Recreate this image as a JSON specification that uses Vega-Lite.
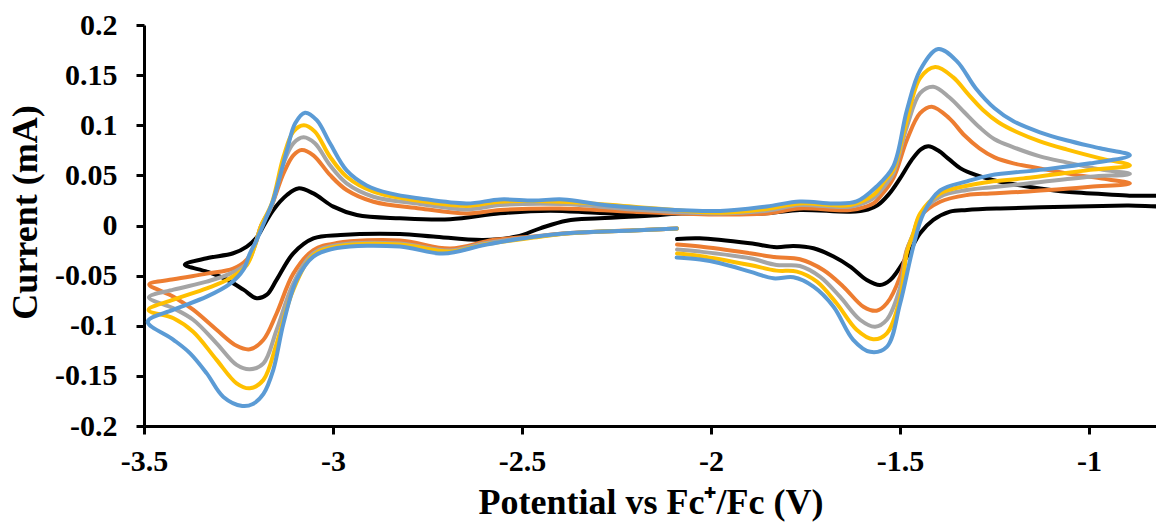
{
  "$schema": "https://vega.github.io/schema/vega-lite/v6.json",
  "autosize": "none",
  "width": 1012,
  "height": 401,
  "padding": {"left": 144, "top": 25, "right": 0, "bottom": 97},
  "background": "white",
  "config": {
    "view": {"stroke": null},
    "axis": {
      "grid": false,
      "domainColor": "black",
      "domainWidth": 3,
      "tickColor": "black",
      "tickWidth": 3,
      "tickSize": 8,
      "labelFont": "Liberation Serif",
      "labelFontWeight": "bold",
      "labelFontSize": 30,
      "labelColor": "black",
      "labelFlush": false,
      "labelOverlap": false,
      "titleFont": "Liberation Serif",
      "titleFontWeight": "bold",
      "titleFontSize": 36,
      "titleColor": "black"
    }
  },
  "data": {"values": [
    {"s":1,"i":1,"x":-2.09,"y":0.012},{"s":1,"i":2,"x":-2.135,"y":0.0105},{"s":1,"i":3,"x":-2.294,"y":0.0072},{"s":1,"i":4,"x":-2.382,"y":0.0048},{"s":1,"i":5,"x":-2.452,"y":-0.0028},{"s":1,"i":6,"x":-2.514,"y":-0.011},{"s":1,"i":7,"x":-2.602,"y":-0.0145},{"s":1,"i":8,"x":-2.735,"y":-0.011},{"s":1,"i":9,"x":-2.823,"y":-0.0085},{"s":1,"i":10,"x":-2.98,"y":-0.0095},{"s":1,"i":11,"x":-3.052,"y":-0.0128},{"s":1,"i":12,"x":-3.105,"y":-0.0277},{"s":1,"i":13,"x":-3.149,"y":-0.054},{"s":1,"i":14,"x":-3.175,"y":-0.069},{"s":1,"i":15,"x":-3.202,"y":-0.0726},{"s":1,"i":16,"x":-3.237,"y":-0.064},{"s":1,"i":17,"x":-3.281,"y":-0.054},{"s":1,"i":18,"x":-3.334,"y":-0.046},{"s":1,"i":19,"x":-3.392,"y":-0.039},{"s":1,"i":20,"x":-3.334,"y":-0.0327},{"s":1,"i":21,"x":-3.264,"y":-0.0277},{"s":1,"i":22,"x":-3.228,"y":-0.021},{"s":1,"i":23,"x":-3.202,"y":-0.012},{"s":1,"i":24,"x":-3.18,"y":0.002},{"s":1,"i":25,"x":-3.158,"y":0.0155},{"s":1,"i":26,"x":-3.122,"y":0.0304},{"s":1,"i":27,"x":-3.092,"y":0.037},{"s":1,"i":28,"x":-3.052,"y":0.032},{"s":1,"i":29,"x":-2.999,"y":0.0188},{"s":1,"i":30,"x":-2.937,"y":0.0105},{"s":1,"i":31,"x":-2.823,"y":0.0072},{"s":1,"i":32,"x":-2.69,"y":0.0062},{"s":1,"i":33,"x":-2.558,"y":0.0122},{"s":1,"i":34,"x":-2.426,"y":0.0148},{"s":1,"i":35,"x":-2.294,"y":0.0125},{"s":1,"i":36,"x":-2.135,"y":0.0115},{"s":1,"i":37,"x":-2.03,"y":0.0122},{"s":1,"i":38,"x":-1.853,"y":0.0122},{"s":1,"i":39,"x":-1.765,"y":0.0155},{"s":1,"i":40,"x":-1.632,"y":0.0138},{"s":1,"i":41,"x":-1.585,"y":0.016},{"s":1,"i":42,"x":-1.56,"y":0.02},{"s":1,"i":43,"x":-1.53,"y":0.031},{"s":1,"i":44,"x":-1.5,"y":0.047},{"s":1,"i":45,"x":-1.47,"y":0.065},{"s":1,"i":46,"x":-1.445,"y":0.076},{"s":1,"i":47,"x":-1.425,"y":0.079},{"s":1,"i":48,"x":-1.4,"y":0.075},{"s":1,"i":49,"x":-1.37,"y":0.066},{"s":1,"i":50,"x":-1.34,"y":0.057},{"s":1,"i":51,"x":-1.3,"y":0.0505},{"s":1,"i":52,"x":-1.235,"y":0.0437},{"s":1,"i":53,"x":-1.13,"y":0.037},{"s":1,"i":54,"x":-1.06,"y":0.0337},{"s":1,"i":55,"x":-0.9,"y":0.03},{"s":1,"i":56,"x":-0.78,"y":0.027},{"s":1,"i":57,"x":-0.78,"y":0.021},{"s":1,"i":58,"x":-0.9,"y":0.02},{"s":1,"i":59,"x":-1.06,"y":0.0188},{"s":1,"i":60,"x":-1.235,"y":0.017},{"s":1,"i":61,"x":-1.323,"y":0.0155},{"s":1,"i":62,"x":-1.368,"y":0.0138},{"s":1,"i":63,"x":-1.412,"y":0.0055},{"s":1,"i":64,"x":-1.447,"y":-0.0078},{"s":1,"i":65,"x":-1.482,"y":-0.031},{"s":1,"i":66,"x":-1.526,"y":-0.0544},{"s":1,"i":67,"x":-1.553,"y":-0.0594},{"s":1,"i":68,"x":-1.588,"y":-0.0544},{"s":1,"i":69,"x":-1.632,"y":-0.041},{"s":1,"i":70,"x":-1.676,"y":-0.031},{"s":1,"i":71,"x":-1.729,"y":-0.0227},{"s":1,"i":72,"x":-1.782,"y":-0.0204},{"s":1,"i":73,"x":-1.827,"y":-0.0217},{"s":1,"i":74,"x":-1.897,"y":-0.0178},{"s":1,"i":75,"x":-2.03,"y":-0.0128},{"s":1,"i":76,"x":-2.09,"y":-0.0135},

    {"s":2,"i":1,"x":-2.09,"y":-0.003},{"s":2,"i":2,"x":-2.206,"y":-0.0048},{"s":2,"i":3,"x":-2.382,"y":-0.0078},{"s":2,"i":4,"x":-2.47,"y":-0.011},{"s":2,"i":5,"x":-2.577,"y":-0.0145},{"s":2,"i":6,"x":-2.69,"y":-0.023},{"s":2,"i":7,"x":-2.823,"y":-0.015},{"s":2,"i":8,"x":-2.99,"y":-0.0175},{"s":2,"i":9,"x":-3.052,"y":-0.0245},{"s":2,"i":10,"x":-3.105,"y":-0.048},{"s":2,"i":11,"x":-3.149,"y":-0.0875},{"s":2,"i":12,"x":-3.184,"y":-0.114},{"s":2,"i":13,"x":-3.22,"y":-0.1235},{"s":2,"i":14,"x":-3.255,"y":-0.12},{"s":2,"i":15,"x":-3.308,"y":-0.104},{"s":2,"i":16,"x":-3.37,"y":-0.084},{"s":2,"i":17,"x":-3.422,"y":-0.071},{"s":2,"i":18,"x":-3.486,"y":-0.0587},{"s":2,"i":19,"x":-3.422,"y":-0.0537},{"s":2,"i":20,"x":-3.334,"y":-0.048},{"s":2,"i":21,"x":-3.264,"y":-0.043},{"s":2,"i":22,"x":-3.228,"y":-0.034},{"s":2,"i":23,"x":-3.206,"y":-0.018},{"s":2,"i":24,"x":-3.19,"y":0.0},{"s":2,"i":25,"x":-3.167,"y":0.0155},{"s":2,"i":26,"x":-3.131,"y":0.052},{"s":2,"i":27,"x":-3.105,"y":0.07},{"s":2,"i":28,"x":-3.083,"y":0.0753},{"s":2,"i":29,"x":-3.052,"y":0.07},{"s":2,"i":30,"x":-3.008,"y":0.0504},{"s":2,"i":31,"x":-2.964,"y":0.0354},{"s":2,"i":32,"x":-2.893,"y":0.0237},{"s":2,"i":33,"x":-2.77,"y":0.017},{"s":2,"i":34,"x":-2.646,"y":0.012},{"s":2,"i":35,"x":-2.558,"y":0.0155},{"s":2,"i":36,"x":-2.4,"y":0.017},{"s":2,"i":37,"x":-2.205,"y":0.0138},{"s":2,"i":38,"x":-1.976,"y":0.011},{"s":2,"i":39,"x":-1.853,"y":0.012},{"s":2,"i":40,"x":-1.765,"y":0.017},{"s":2,"i":41,"x":-1.632,"y":0.0155},{"s":2,"i":42,"x":-1.571,"y":0.022},{"s":2,"i":43,"x":-1.55,"y":0.03},{"s":2,"i":44,"x":-1.518,"y":0.047},{"s":2,"i":45,"x":-1.482,"y":0.0853},{"s":2,"i":46,"x":-1.447,"y":0.112},{"s":2,"i":47,"x":-1.416,"y":0.1185},{"s":2,"i":48,"x":-1.37,"y":0.107},{"s":2,"i":49,"x":-1.33,"y":0.09},{"s":2,"i":50,"x":-1.29,"y":0.077},{"s":2,"i":51,"x":-1.25,"y":0.068},{"s":2,"i":52,"x":-1.2,"y":0.062},{"s":2,"i":53,"x":-1.13,"y":0.057},{"s":2,"i":54,"x":-1.06,"y":0.052},{"s":2,"i":55,"x":-0.97,"y":0.047},{"s":2,"i":56,"x":-0.892,"y":0.042},{"s":2,"i":57,"x":-0.997,"y":0.0387},{"s":2,"i":58,"x":-1.174,"y":0.0337},{"s":2,"i":59,"x":-1.262,"y":0.032},{"s":2,"i":60,"x":-1.323,"y":0.0304},{"s":2,"i":61,"x":-1.394,"y":0.0237},{"s":2,"i":62,"x":-1.447,"y":0.0088},{"s":2,"i":63,"x":-1.465,"y":-0.009},{"s":2,"i":64,"x":-1.482,"y":-0.024},{"s":2,"i":65,"x":-1.5,"y":-0.051},{"s":2,"i":66,"x":-1.535,"y":-0.0776},{"s":2,"i":67,"x":-1.562,"y":-0.085},{"s":2,"i":68,"x":-1.597,"y":-0.081},{"s":2,"i":69,"x":-1.65,"y":-0.061},{"s":2,"i":70,"x":-1.703,"y":-0.0444},{"s":2,"i":71,"x":-1.765,"y":-0.0337},{"s":2,"i":72,"x":-1.827,"y":-0.0317},{"s":2,"i":73,"x":-1.897,"y":-0.0277},{"s":2,"i":74,"x":-2.029,"y":-0.021},{"s":2,"i":75,"x":-2.09,"y":-0.019},

    {"s":3,"i":1,"x":-2.09,"y":-0.003},{"s":3,"i":2,"x":-2.206,"y":-0.005},{"s":3,"i":3,"x":-2.382,"y":-0.008},{"s":3,"i":4,"x":-2.47,"y":-0.0115},{"s":3,"i":5,"x":-2.6,"y":-0.018},{"s":3,"i":6,"x":-2.69,"y":-0.025},{"s":3,"i":7,"x":-2.823,"y":-0.018},{"s":3,"i":8,"x":-2.99,"y":-0.0195},{"s":3,"i":9,"x":-3.052,"y":-0.0277},{"s":3,"i":10,"x":-3.105,"y":-0.0577},{"s":3,"i":11,"x":-3.149,"y":-0.104},{"s":3,"i":12,"x":-3.184,"y":-0.1375},{"s":3,"i":13,"x":-3.22,"y":-0.1434},{"s":3,"i":14,"x":-3.255,"y":-0.139},{"s":3,"i":15,"x":-3.308,"y":-0.1175},{"s":3,"i":16,"x":-3.37,"y":-0.094},{"s":3,"i":17,"x":-3.422,"y":-0.0826},{"s":3,"i":18,"x":-3.487,"y":-0.0716},{"s":3,"i":19,"x":-3.422,"y":-0.064},{"s":3,"i":20,"x":-3.334,"y":-0.056},{"s":3,"i":21,"x":-3.272,"y":-0.048},{"s":3,"i":22,"x":-3.228,"y":-0.0377},{"s":3,"i":23,"x":-3.206,"y":-0.0195},{"s":3,"i":24,"x":-3.19,"y":0.0},{"s":3,"i":25,"x":-3.162,"y":0.02},{"s":3,"i":26,"x":-3.131,"y":0.062},{"s":3,"i":27,"x":-3.105,"y":0.082},{"s":3,"i":28,"x":-3.078,"y":0.088},{"s":3,"i":29,"x":-3.048,"y":0.082},{"s":3,"i":30,"x":-3.008,"y":0.06},{"s":3,"i":31,"x":-2.964,"y":0.042},{"s":3,"i":32,"x":-2.893,"y":0.0287},{"s":3,"i":33,"x":-2.77,"y":0.0215},{"s":3,"i":34,"x":-2.646,"y":0.016},{"s":3,"i":35,"x":-2.558,"y":0.0204},{"s":3,"i":36,"x":-2.39,"y":0.0214},{"s":3,"i":37,"x":-2.205,"y":0.016},{"s":3,"i":38,"x":-1.976,"y":0.012},{"s":3,"i":39,"x":-1.853,"y":0.0148},{"s":3,"i":40,"x":-1.765,"y":0.0204},{"s":3,"i":41,"x":-1.632,"y":0.0188},{"s":3,"i":42,"x":-1.571,"y":0.027},{"s":3,"i":43,"x":-1.54,"y":0.04},{"s":3,"i":44,"x":-1.518,"y":0.052},{"s":3,"i":45,"x":-1.482,"y":0.0985},{"s":3,"i":46,"x":-1.447,"y":0.132},{"s":3,"i":47,"x":-1.412,"y":0.1385},{"s":3,"i":48,"x":-1.37,"y":0.128},{"s":3,"i":49,"x":-1.33,"y":0.113},{"s":3,"i":50,"x":-1.29,"y":0.098},{"s":3,"i":51,"x":-1.25,"y":0.086},{"s":3,"i":52,"x":-1.2,"y":0.078},{"s":3,"i":53,"x":-1.13,"y":0.069},{"s":3,"i":54,"x":-1.06,"y":0.063},{"s":3,"i":55,"x":-0.97,"y":0.056},{"s":3,"i":56,"x":-0.892,"y":0.0514},{"s":3,"i":57,"x":-0.997,"y":0.0487},{"s":3,"i":58,"x":-1.174,"y":0.0414},{"s":3,"i":59,"x":-1.262,"y":0.038},{"s":3,"i":60,"x":-1.323,"y":0.0354},{"s":3,"i":61,"x":-1.394,"y":0.0287},{"s":3,"i":62,"x":-1.447,"y":0.0105},{"s":3,"i":63,"x":-1.465,"y":-0.008},{"s":3,"i":64,"x":-1.482,"y":-0.025},{"s":3,"i":65,"x":-1.5,"y":-0.062},{"s":3,"i":66,"x":-1.535,"y":-0.094},{"s":3,"i":67,"x":-1.566,"y":-0.101},{"s":3,"i":68,"x":-1.606,"y":-0.094},{"s":3,"i":69,"x":-1.659,"y":-0.071},{"s":3,"i":70,"x":-1.712,"y":-0.051},{"s":3,"i":71,"x":-1.765,"y":-0.0404},{"s":3,"i":72,"x":-1.827,"y":-0.0394},{"s":3,"i":73,"x":-1.897,"y":-0.0327},{"s":3,"i":74,"x":-2.03,"y":-0.026},{"s":3,"i":75,"x":-2.09,"y":-0.024},

    {"s":4,"i":1,"x":-2.09,"y":-0.003},{"s":4,"i":2,"x":-2.206,"y":-0.005},{"s":4,"i":3,"x":-2.382,"y":-0.008},{"s":4,"i":4,"x":-2.47,"y":-0.012},{"s":4,"i":5,"x":-2.6,"y":-0.019},{"s":4,"i":6,"x":-2.69,"y":-0.026},{"s":4,"i":7,"x":-2.823,"y":-0.019},{"s":4,"i":8,"x":-2.99,"y":-0.021},{"s":4,"i":9,"x":-3.052,"y":-0.0294},{"s":4,"i":10,"x":-3.105,"y":-0.064},{"s":4,"i":11,"x":-3.149,"y":-0.1175},{"s":4,"i":12,"x":-3.184,"y":-0.154},{"s":4,"i":13,"x":-3.22,"y":-0.1624},{"s":4,"i":14,"x":-3.255,"y":-0.1574},{"s":4,"i":15,"x":-3.308,"y":-0.134},{"s":4,"i":16,"x":-3.37,"y":-0.106},{"s":4,"i":17,"x":-3.422,"y":-0.0926},{"s":4,"i":18,"x":-3.488,"y":-0.0843},{"s":4,"i":19,"x":-3.422,"y":-0.074},{"s":4,"i":20,"x":-3.334,"y":-0.0627},{"s":4,"i":21,"x":-3.272,"y":-0.0527},{"s":4,"i":22,"x":-3.228,"y":-0.0394},{"s":4,"i":23,"x":-3.206,"y":-0.0195},{"s":4,"i":24,"x":-3.19,"y":0.0},{"s":4,"i":25,"x":-3.162,"y":0.022},{"s":4,"i":26,"x":-3.131,"y":0.0686},{"s":4,"i":27,"x":-3.105,"y":0.0936},{"s":4,"i":28,"x":-3.077,"y":0.1},{"s":4,"i":29,"x":-3.048,"y":0.0936},{"s":4,"i":30,"x":-3.008,"y":0.0686},{"s":4,"i":31,"x":-2.964,"y":0.0487},{"s":4,"i":32,"x":-2.893,"y":0.0337},{"s":4,"i":33,"x":-2.77,"y":0.0244},{"s":4,"i":34,"x":-2.646,"y":0.0195},{"s":4,"i":35,"x":-2.558,"y":0.0237},{"s":4,"i":36,"x":-2.39,"y":0.0237},{"s":4,"i":37,"x":-2.205,"y":0.0188},{"s":4,"i":38,"x":-1.976,"y":0.0128},{"s":4,"i":39,"x":-1.853,"y":0.0165},{"s":4,"i":40,"x":-1.765,"y":0.022},{"s":4,"i":41,"x":-1.632,"y":0.0204},{"s":4,"i":42,"x":-1.571,"y":0.0304},{"s":4,"i":43,"x":-1.54,"y":0.045},{"s":4,"i":44,"x":-1.518,"y":0.0555},{"s":4,"i":45,"x":-1.482,"y":0.105},{"s":4,"i":46,"x":-1.447,"y":0.147},{"s":4,"i":47,"x":-1.407,"y":0.158},{"s":4,"i":48,"x":-1.36,"y":0.148},{"s":4,"i":49,"x":-1.32,"y":0.131},{"s":4,"i":50,"x":-1.28,"y":0.115},{"s":4,"i":51,"x":-1.24,"y":0.103},{"s":4,"i":52,"x":-1.19,"y":0.093},{"s":4,"i":53,"x":-1.13,"y":0.084},{"s":4,"i":54,"x":-1.06,"y":0.076},{"s":4,"i":55,"x":-0.97,"y":0.067},{"s":4,"i":56,"x":-0.892,"y":0.06},{"s":4,"i":57,"x":-0.997,"y":0.0555},{"s":4,"i":58,"x":-1.174,"y":0.047},{"s":4,"i":59,"x":-1.262,"y":0.0437},{"s":4,"i":60,"x":-1.323,"y":0.0397},{"s":4,"i":61,"x":-1.394,"y":0.032},{"s":4,"i":62,"x":-1.447,"y":0.012},{"s":4,"i":63,"x":-1.465,"y":-0.008},{"s":4,"i":64,"x":-1.482,"y":-0.027},{"s":4,"i":65,"x":-1.5,"y":-0.0726},{"s":4,"i":66,"x":-1.535,"y":-0.1075},{"s":4,"i":67,"x":-1.571,"y":-0.1135},{"s":4,"i":68,"x":-1.615,"y":-0.104},{"s":4,"i":69,"x":-1.668,"y":-0.0776},{"s":4,"i":70,"x":-1.72,"y":-0.056},{"s":4,"i":71,"x":-1.773,"y":-0.046},{"s":4,"i":72,"x":-1.827,"y":-0.045},{"s":4,"i":73,"x":-1.897,"y":-0.0394},{"s":4,"i":74,"x":-2.03,"y":-0.0304},{"s":4,"i":75,"x":-2.09,"y":-0.028},

    {"s":5,"i":1,"x":-2.091,"y":-0.003},{"s":5,"i":2,"x":-2.206,"y":-0.005},{"s":5,"i":3,"x":-2.382,"y":-0.0078},{"s":5,"i":4,"x":-2.514,"y":-0.0138},{"s":5,"i":5,"x":-2.6,"y":-0.0195},{"s":5,"i":6,"x":-2.71,"y":-0.028},{"s":5,"i":7,"x":-2.823,"y":-0.021},{"s":5,"i":8,"x":-2.99,"y":-0.0225},{"s":5,"i":9,"x":-3.052,"y":-0.031},{"s":5,"i":10,"x":-3.096,"y":-0.054},{"s":5,"i":11,"x":-3.131,"y":-0.0975},{"s":5,"i":12,"x":-3.158,"y":-0.144},{"s":5,"i":13,"x":-3.184,"y":-0.168},{"s":5,"i":14,"x":-3.212,"y":-0.178},{"s":5,"i":15,"x":-3.24,"y":-0.18},{"s":5,"i":16,"x":-3.29,"y":-0.171},{"s":5,"i":17,"x":-3.334,"y":-0.1475},{"s":5,"i":18,"x":-3.378,"y":-0.1275},{"s":5,"i":19,"x":-3.422,"y":-0.114},{"s":5,"i":20,"x":-3.49,"y":-0.096},{"s":5,"i":21,"x":-3.422,"y":-0.084},{"s":5,"i":22,"x":-3.334,"y":-0.071},{"s":5,"i":23,"x":-3.272,"y":-0.058},{"s":5,"i":24,"x":-3.237,"y":-0.044},{"s":5,"i":25,"x":-3.22,"y":-0.028},{"s":5,"i":26,"x":-3.202,"y":-0.0145},{"s":5,"i":27,"x":-3.18,"y":0.005},{"s":5,"i":28,"x":-3.158,"y":0.0255},{"s":5,"i":29,"x":-3.122,"y":0.075},{"s":5,"i":30,"x":-3.1,"y":0.102},{"s":5,"i":31,"x":-3.074,"y":0.1125},{"s":5,"i":32,"x":-3.043,"y":0.105},{"s":5,"i":33,"x":-3.008,"y":0.082},{"s":5,"i":34,"x":-2.964,"y":0.055},{"s":5,"i":35,"x":-2.911,"y":0.04},{"s":5,"i":36,"x":-2.849,"y":0.032},{"s":5,"i":37,"x":-2.77,"y":0.027},{"s":5,"i":38,"x":-2.646,"y":0.022},{"s":5,"i":39,"x":-2.558,"y":0.026},{"s":5,"i":40,"x":-2.47,"y":0.025},{"s":5,"i":41,"x":-2.391,"y":0.026},{"s":5,"i":42,"x":-2.294,"y":0.021},{"s":5,"i":43,"x":-2.161,"y":0.017},{"s":5,"i":44,"x":-1.976,"y":0.0145},{"s":5,"i":45,"x":-1.853,"y":0.019},{"s":5,"i":46,"x":-1.765,"y":0.024},{"s":5,"i":47,"x":-1.676,"y":0.022},{"s":5,"i":48,"x":-1.615,"y":0.024},{"s":5,"i":49,"x":-1.562,"y":0.039},{"s":5,"i":50,"x":-1.518,"y":0.059},{"s":5,"i":51,"x":-1.482,"y":0.115},{"s":5,"i":52,"x":-1.447,"y":0.155},{"s":5,"i":53,"x":-1.399,"y":0.176},{"s":5,"i":54,"x":-1.35,"y":0.164},{"s":5,"i":55,"x":-1.3,"y":0.137},{"s":5,"i":56,"x":-1.25,"y":0.117},{"s":5,"i":57,"x":-1.2,"y":0.104},{"s":5,"i":58,"x":-1.13,"y":0.093},{"s":5,"i":59,"x":-1.06,"y":0.085},{"s":5,"i":60,"x":-0.971,"y":0.077},{"s":5,"i":61,"x":-0.892,"y":0.07},{"s":5,"i":62,"x":-0.997,"y":0.062},{"s":5,"i":63,"x":-1.13,"y":0.0555},{"s":5,"i":64,"x":-1.262,"y":0.05},{"s":5,"i":65,"x":-1.323,"y":0.044},{"s":5,"i":66,"x":-1.394,"y":0.035},{"s":5,"i":67,"x":-1.438,"y":0.012},{"s":5,"i":68,"x":-1.465,"y":-0.021},{"s":5,"i":69,"x":-1.5,"y":-0.078},{"s":5,"i":70,"x":-1.535,"y":-0.121},{"s":5,"i":71,"x":-1.579,"y":-0.126},{"s":5,"i":72,"x":-1.624,"y":-0.114},{"s":5,"i":73,"x":-1.676,"y":-0.081},{"s":5,"i":74,"x":-1.729,"y":-0.061},{"s":5,"i":75,"x":-1.782,"y":-0.0517},{"s":5,"i":76,"x":-1.835,"y":-0.0527},{"s":5,"i":77,"x":-1.897,"y":-0.046},{"s":5,"i":78,"x":-1.976,"y":-0.0377},{"s":5,"i":79,"x":-2.029,"y":-0.034},{"s":5,"i":80,"x":-2.091,"y":-0.032}
  ]},
  "mark": {"type": "line", "interpolate": "catmull-rom", "strokeWidth": 4, "strokeCap": "round", "strokeJoin": "round", "clip": true},
  "encoding": {
    "x": {
      "field": "x", "type": "quantitative",
      "scale": {"domain": [-3.5, -0.823], "nice": false, "zero": false},
      "axis": {
        "values": [-3.5, -3, -2.5, -2, -1.5, -1],
        "labelExpr": "'' + datum.value",
        "labelPadding": 12,
        "title": "Potential vs Fc⁺/Fc (V)",
        "titleX": 506.5, "titleY": 87, "titleBaseline": "alphabetic", "titleAlign": "center"
      }
    },
    "y": {
      "field": "y", "type": "quantitative",
      "scale": {"domain": [-0.2, 0.2], "nice": false, "zero": false},
      "axis": {
        "values": [-0.2, -0.15, -0.1, -0.05, 0, 0.05, 0.1, 0.15, 0.2],
        "labelExpr": "'' + datum.value",
        "labelPadding": 19,
        "title": "Current (mA)",
        "titleX": -119, "titleY": 187, "titleAngle": 270, "titleBaseline": "middle", "titleAlign": "center"
      }
    },
    "color": {
      "field": "s", "type": "nominal",
      "scale": {"domain": [1, 2, 3, 4, 5], "range": ["#000000", "#ED7D31", "#A5A5A5", "#FFC000", "#5B9BD5"]},
      "legend": null
    },
    "order": {"field": "i", "type": "quantitative"}
  }
}
